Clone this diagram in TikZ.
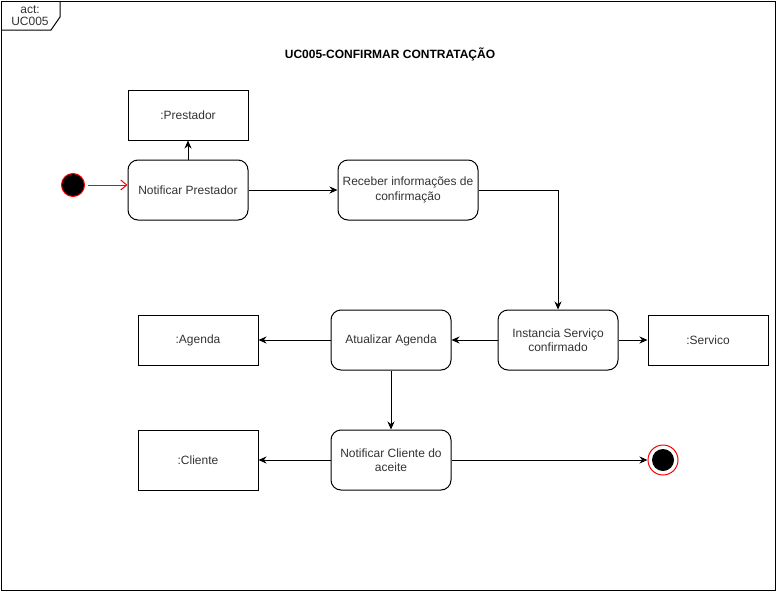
\documentclass[tikz,border=0pt]{standalone}
\usepackage{fontspec}
\setmainfont{Liberation Sans}
\usetikzlibrary{arrows.meta}
\definecolor{txt}{HTML}{333333}
\begin{document}
\begin{tikzpicture}[x=1pt,y=-1pt,line width=1pt,
   font=\fontsize{12}{14.5}\selectfont,
   act/.style={draw,rounded corners=10pt,minimum width=120pt,minimum height=60pt,align=center,text=txt,inner sep=1pt},
   obj/.style={draw,minimum width=120pt,minimum height=50pt,text=txt},
   flow/.style={-{Stealth[length=8pt,width=7pt]}}]
   \useasboundingbox (0,0) rectangle (777,592);
   \draw (1,1) rectangle (775,590);
   \draw (1,30) -- (51,30) -- (60,17) -- (60,1);
   \node[align=center,text=txt] at (30,15.5) {act:\\[-3pt]UC005};
   \node[font=\fontsize{12}{14.5}\selectfont\bfseries] at (390,54) {UC005-CONFIRMAR CONTRATAÇÃO};
   \node[obj] (prestador) at (188,115) {:Prestador};
   \node[act] (notprest) at (188,190) {Notificar Prestador};
   \node[draw=red,fill=black,circle,minimum size=23pt,inner sep=0pt] (ini) at (73,185) {};
   \node[act,minimum width=140pt] (receber) at (408,190) {Receber informações de\\confirmação};
   \node[act] (instancia) at (558,340) {Instancia Serviço\\confirmado};
   \node[obj] (servico) at (708,340) {:Servico};
   \node[act] (atualizar) at (391,340) {Atualizar Agenda};
   \node[obj] (agenda) at (198,340) {:Agenda};
   \node[act] (notcli) at (391,460) {Notificar Cliente do\\aceite};
   \node[obj,minimum height=60pt] (cliente) at (198,460) {:Cliente};
   \node[draw=red,circle,minimum size=30pt,inner sep=0pt] (fim) at (663,460) {};
   \fill (fim) circle (11pt);
   \draw[red,-{Straight Barb[length=6pt,width=10pt]}] (ini.east)++(3,0) -- (notprest.west|-ini);
   \draw[flow] (notprest) -- (prestador);
   \draw[flow] (notprest) -- (receber);
   \draw[flow] (receber.east) -| (instancia.north);
   \draw[flow] (instancia) -- (servico);
   \draw[flow] (instancia) -- (atualizar);
   \draw[flow] (atualizar) -- (agenda);
   \draw[flow] (atualizar) -- (notcli);
   \draw[flow] (notcli) -- (cliente);
   \draw[flow] (notcli) -- (fim);
\end{tikzpicture}
\end{document}
